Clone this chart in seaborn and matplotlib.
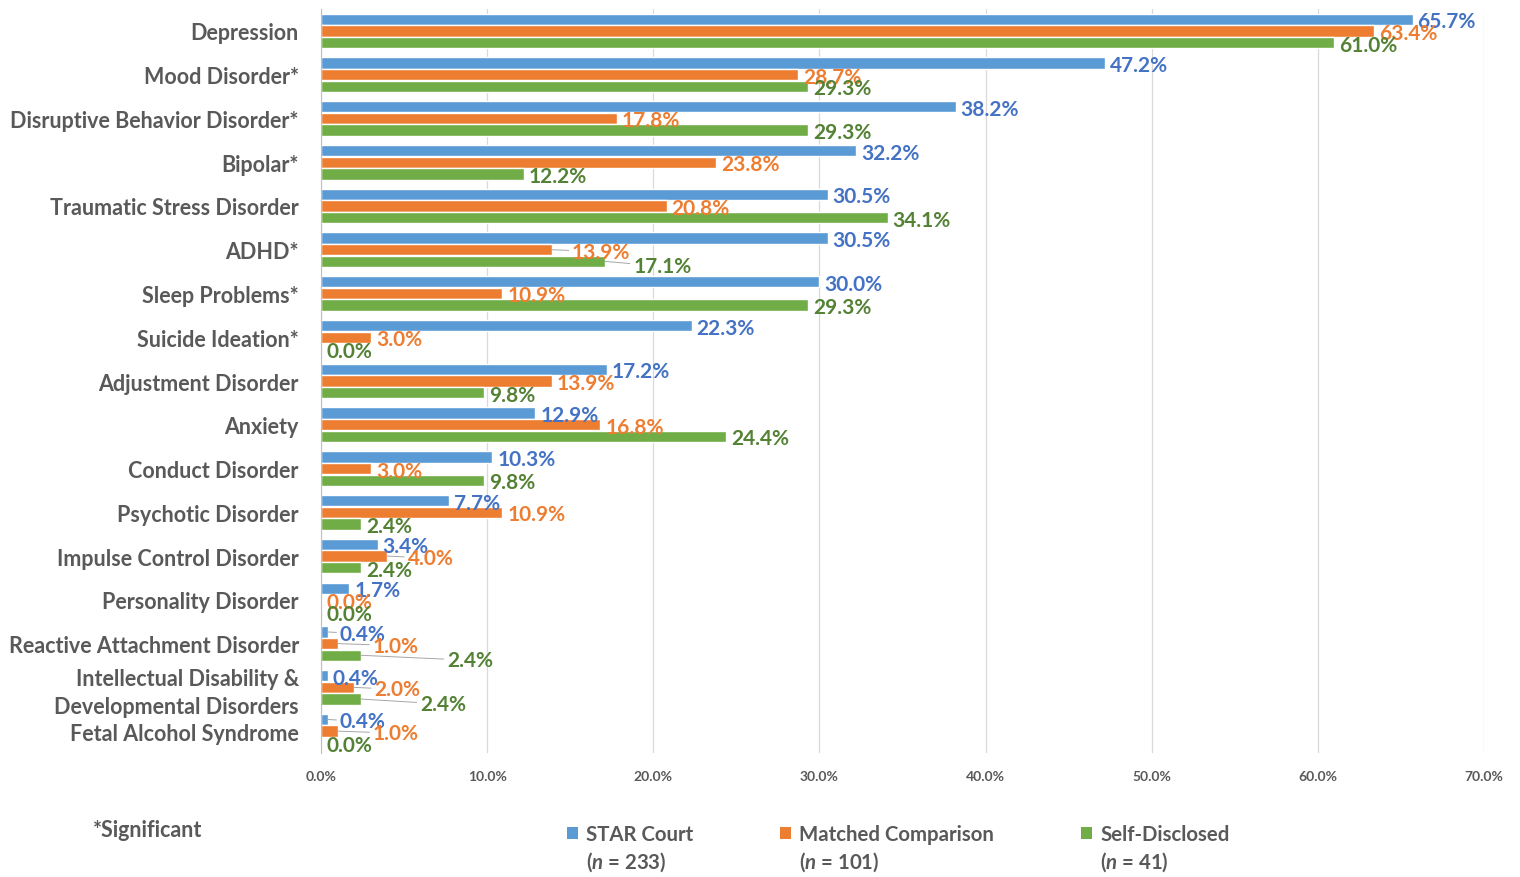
import pandas as pd
import matplotlib.pyplot as plt
import seaborn as sns
from matplotlib.patches import Patch

categories = ["Depression", "Mood Disorder*", "Disruptive Behavior Disorder*", "Bipolar*",
              "Traumatic Stress Disorder", "ADHD*", "Sleep Problems*", "Suicide Ideation*",
              "Adjustment Disorder", "Anxiety", "Conduct Disorder", "Psychotic Disorder",
              "Impulse Control Disorder", "Personality Disorder", "Reactive Attachment Disorder",
              "Intellectual Disability &\nDevelopmental Disorders", "Fetal Alcohol Syndrome"]
series = ["STAR Court", "Matched Comparison", "Self-Disclosed"]
sample_sizes = [233, 101, 41]
star_court = [65.7, 47.2, 38.2, 32.2, 30.5, 30.5, 30.0, 22.3, 17.2, 12.9, 10.3, 7.7, 3.4, 1.7, 0.4, 0.4, 0.4]
matched = [63.4, 28.7, 17.8, 23.8, 20.8, 13.9, 10.9, 3.0, 13.9, 16.8, 3.0, 10.9, 4.0, 0.0, 1.0, 2.0, 1.0]
self_disclosed = [61.0, 29.3, 29.3, 12.2, 34.1, 17.1, 29.3, 0.0, 9.8, 24.4, 9.8, 2.4, 2.4, 0.0, 2.4, 2.4, 0.0]

bar_colors = ["#5B9BD5", "#ED7D31", "#70AD47"]
label_colors = ["#4472C4", "#ED7D31", "#548235"]
gray = "#595959"

# manual label nudges (pixels) where the original used leader lines
nudges = {
    (5, 1): (15, 0), (5, 2): (23, -3),
    (12, 1): (15, 0),
    (14, 0): (7, 0), (14, 1): (30, 0), (14, 2): (81, -3),
    (15, 1): (15, 0), (15, 2): (54, -3),
    (16, 0): (7, 0), (16, 1): (30, 0),
}

df = pd.DataFrame({
    "Category": categories * 3,
    "Series": [s for s in series for _ in categories],
    "Value": star_court + matched + self_disclosed,
})

sns.set_style("white")
plt.rcParams["font.family"] = ["Lato", "DejaVu Sans"]
plt.rcParams["mathtext.fontset"] = "custom"
plt.rcParams["mathtext.it"] = "Lato:italic:bold"
plt.rcParams["mathtext.rm"] = "Lato:bold"

fig = plt.figure(figsize=(15.2, 8.78), dpi=100)
ax = fig.add_axes([0.2112, 0.1412, 0.7651, 0.8474])

sns.barplot(data=df, y="Category", x="Value", hue="Series", orient="h",
            palette=bar_colors, width=0.8, gap=0.03, ax=ax, legend=False,
            saturation=1)

ax.set_xlim(0, 70)
ax.set_ylim(len(categories) - 0.5, -0.5)
ax.set_xticks(range(0, 71, 10))
ax.set_xticklabels([f"{t:.1f}%" for t in range(0, 71, 10)], fontsize=10,
                   fontweight="bold", color=gray)
ax.tick_params(axis="x", length=0, pad=12)
ax.tick_params(axis="y", length=0, pad=16)
for lbl in ax.get_yticklabels():
    lbl.set_fontsize(15.5)
    lbl.set_fontweight("bold")
    lbl.set_color(gray)
    lbl.set_linespacing(1.4)
ax.set_xlabel("")
ax.set_ylabel("")
ax.grid(axis="x", color="#D9D9D9", lw=0.9)
ax.set_axisbelow(True)
for side in ["top", "right", "bottom"]:
    ax.spines[side].set_visible(False)
ax.spines["left"].set_color("#BFBFBF")

for si, cont in enumerate(ax.containers):
    for ci, bar in enumerate(cont):
        w = bar.get_width()
        yc = bar.get_y() + bar.get_height() / 2
        dx, dy = nudges.get((ci, si), (0, 0))
        arrow = dict(arrowstyle="-", color="#A6A6A6", lw=0.7, shrinkA=0, shrinkB=0) if dx else None
        ax.annotate(f"{w:.1f}%", xy=(w, yc), xytext=(5 + dx, dy - 2), textcoords="offset pixels",
                    ha="left", va="center", fontsize=15, fontweight="bold",
                    color=label_colors[si], arrowprops=arrow, annotation_clip=False)

handles = [Patch(facecolor=c, edgecolor="none") for c in bar_colors]
leg = fig.legend(handles, series, loc="center left", bbox_to_anchor=(0.366, 0.049),
                 ncol=3, frameon=False, fontsize=14.7, handlelength=0.55, handleheight=0.55,
                 handletextpad=0.4, columnspacing=4.25, borderpad=0)
for t in leg.get_texts():
    t.set_color(gray)
    t.set_fontweight("bold")

fig.canvas.draw()
renderer = fig.canvas.get_renderer()
for t, n in zip(leg.get_texts(), sample_sizes):
    bb = t.get_window_extent(renderer).transformed(fig.transFigure.inverted())
    fig.text(bb.x0, 0.018, f"($n$ = {n})", fontsize=14.7, fontweight="bold", color=gray,
             ha="left", va="center")

fig.text(0.061, 0.054, "*Significant", fontsize=15.5, fontweight="bold", color=gray,
         ha="left", va="center")

fig.savefig("out.png", dpi=100)
